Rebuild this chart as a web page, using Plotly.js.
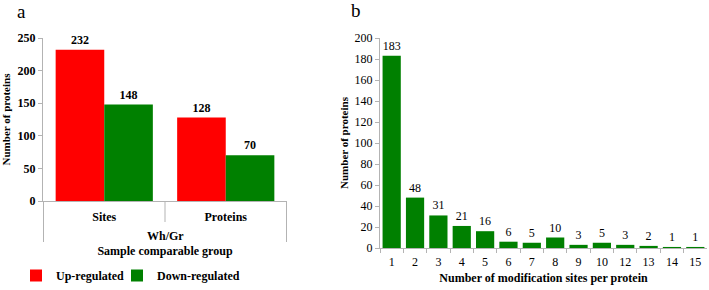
<!DOCTYPE html>
<html>
<head>
<meta charset="utf-8">
<script src="https://cdn.plot.ly/plotly-3.0.1.min.js"></script>
<style>html,body{margin:0;padding:0;background:#fff;}#chart{width:709px;height:290px;}</style>
</head>
<body>
<div id="chart"></div>
<script>
// Panel a data
var groupCategories = ["Sites", "Proteins"];
var upRegulated = [232, 128];
var downRegulated = [148, 70];
// Panel b data
var siteCounts = ["1", "2", "3", "4", "5", "6", "7", "8", "9", "10", "12", "13", "14", "15"];
var proteinCounts = [183, 48, 31, 21, 16, 6, 5, 10, 3, 5, 3, 2, 1, 1];

var SERIF = "Liberation Serif";
var RED = "#ff0000", GREEN = "#008000", AXIS = "#b3b3b3";

var traces = [
  {type: "bar", name: "Up-regulated", x: groupCategories, y: upRegulated, legend: "legend",
   marker: {color: RED}, text: upRegulated.map(String), textposition: "outside",
   textfont: {family: SERIF, size: 12, weight: "bold", color: "#000"}, cliponaxis: false,
   xaxis: "x", yaxis: "y"},
  {type: "bar", name: "Down-regulated", x: groupCategories, y: downRegulated, legend: "legend2",
   marker: {color: GREEN}, text: downRegulated.map(String), textposition: "outside",
   textfont: {family: SERIF, size: 12, weight: "bold", color: "#000"}, cliponaxis: false,
   xaxis: "x", yaxis: "y"},
  {type: "bar", name: "Proteins", x: siteCounts, y: proteinCounts, showlegend: false,
   marker: {color: GREEN}, width: 0.78, text: proteinCounts.map(String), textposition: "outside",
   textfont: {family: SERIF, size: 12, color: "#000"}, cliponaxis: false,
   xaxis: "x2", yaxis: "y2"}
];

var legendFont = {family: SERIF, size: 12, weight: "bold", color: "#000"};

var layout = {
  width: 709, height: 290,
  margin: {l: 0, r: 0, t: 0, b: 0},
  paper_bgcolor: "#fff", plot_bgcolor: "#fff",
  barmode: "group", bargap: 0.2, bargroupgap: 0,
  font: {family: SERIF, color: "#000"},
  showlegend: true,
  legend: {orientation: "h", x: 16/709, y: 0, xanchor: "left", yanchor: "bottom",
           font: legendFont, itemwidth: 30, bgcolor: "rgba(0,0,0,0)"},
  legend2: {orientation: "h", x: 117/709, y: 0, xanchor: "left", yanchor: "bottom",
            font: legendFont, itemwidth: 30, bgcolor: "rgba(0,0,0,0)"},
  xaxis: {domain: [43/709, 287/709], type: "category", showline: true, linecolor: AXIS,
          ticks: "", showgrid: false, zeroline: false, ticklabelstandoff: 5,
          tickfont: {family: SERIF, size: 12, weight: "bold"},
          title: {text: "Sample comparable group", font: {family: SERIF, size: 12, weight: "bold"}, standoff: 23},
          anchor: "y"},
  yaxis: {domain: [1 - 201/290, 1 - 38/290], range: [0, 250], dtick: 50, showline: true, linecolor: AXIS,
          ticks: "outside", ticklen: 4, tickcolor: AXIS, showgrid: false, zeroline: false,
          tickfont: {family: SERIF, size: 12, weight: "bold"},
          title: {text: "Number of proteins", font: {family: SERIF, size: 11, weight: "bold"}, standoff: 12},
          anchor: "x"},
  xaxis2: {domain: [380/709, 707/709], type: "category", showline: true, linecolor: AXIS,
           ticks: "outside", tickson: "boundaries", ticklen: 4, tickcolor: AXIS,
           showgrid: false, zeroline: false, ticklabelstandoff: 3,
           tickfont: {family: SERIF, size: 12},
           title: {text: "Number of modification sites per protein", font: {family: SERIF, size: 12, weight: "bold"}, standoff: 5},
           anchor: "y2"},
  yaxis2: {domain: [1 - 248/290, 1 - 38/290], range: [0, 200], dtick: 20, showline: true, linecolor: AXIS,
           ticks: "outside", ticklen: 4, tickcolor: AXIS, showgrid: false, zeroline: false,
           tickfont: {family: SERIF, size: 12},
           title: {text: "Number of proteins", font: {family: SERIF, size: 11, weight: "bold"}, standoff: 3},
           anchor: "x2"},
  shapes: [
    {type: "line", xref: "x", yref: "paper", x0: -0.5, x1: -0.5, y0: 1 - 201/290, y1: 1 - 242/290, line: {color: AXIS, width: 1}},
    {type: "line", xref: "x", yref: "paper", x0: 0.5, x1: 0.5, y0: 1 - 201/290, y1: 1 - 222/290, line: {color: AXIS, width: 1}},
    {type: "line", xref: "x", yref: "paper", x0: 1.5, x1: 1.5, y0: 1 - 201/290, y1: 1 - 242/290, line: {color: AXIS, width: 1}}
  ],
  annotations: [
    {text: "a", xref: "paper", yref: "paper", x: 21/709, y: 1 - 12/290, showarrow: false,
     xanchor: "center", yanchor: "middle", font: {family: SERIF, size: 19}},
    {text: "b", xref: "paper", yref: "paper", x: 356/709, y: 1 - 11/290, showarrow: false,
     xanchor: "center", yanchor: "middle", font: {family: SERIF, size: 19}},
    {text: "Wh/Gr", xref: "x", yref: "paper", x: 0.5, y: 1 - 236/290, showarrow: false,
     xanchor: "center", yanchor: "middle", font: {family: SERIF, size: 12, weight: "bold"}}
  ]
};

Plotly.newPlot("chart", traces, layout, {displayModeBar: false, staticPlot: true});
</script>
</body>
</html>
